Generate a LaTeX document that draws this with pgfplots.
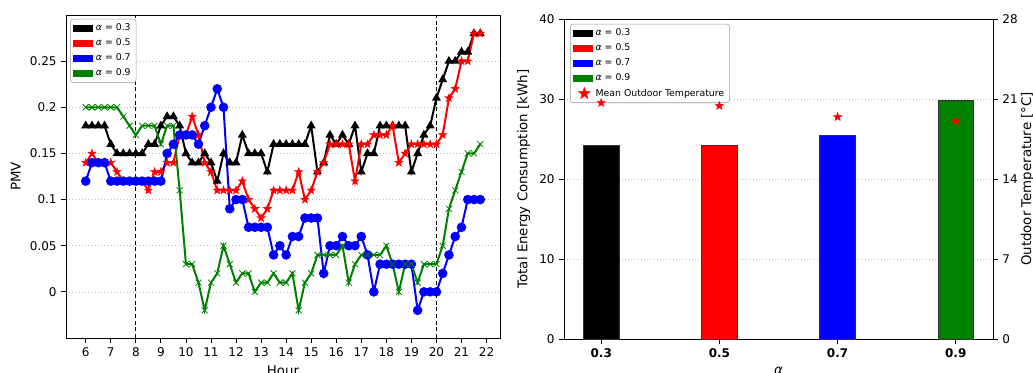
\documentclass[border=0pt]{standalone}
\usepackage{fontspec}
\setmainfont{DejaVu Sans}
\usepackage{pgfplots}
\usepackage{pgfplotstable}
\pgfplotsset{compat=1.18}
\definecolor{mplgreen}{rgb}{0,0.5,0}
\pgfdeclareplotmark{fstar}{%
  \pgfpathmoveto{\pgfqpoint{0pt}{\pgfplotmarksize}}%
  \pgfpathlineto{\pgfqpoint{-.2351\pgfplotmarksize}{.3236\pgfplotmarksize}}%
  \pgfpathlineto{\pgfqpoint{-.9511\pgfplotmarksize}{.3090\pgfplotmarksize}}%
  \pgfpathlineto{\pgfqpoint{-.3804\pgfplotmarksize}{-.1236\pgfplotmarksize}}%
  \pgfpathlineto{\pgfqpoint{-.5878\pgfplotmarksize}{-.8090\pgfplotmarksize}}%
  \pgfpathlineto{\pgfqpoint{0pt}{-.4\pgfplotmarksize}}%
  \pgfpathlineto{\pgfqpoint{.5878\pgfplotmarksize}{-.8090\pgfplotmarksize}}%
  \pgfpathlineto{\pgfqpoint{.3804\pgfplotmarksize}{-.1236\pgfplotmarksize}}%
  \pgfpathlineto{\pgfqpoint{.9511\pgfplotmarksize}{.3090\pgfplotmarksize}}%
  \pgfpathlineto{\pgfqpoint{.2351\pgfplotmarksize}{.3236\pgfplotmarksize}}%
  \pgfpathclose
  \pgfusepathqfillstroke
}
\pgfplotstableread{
t a3 a5 a7 a9
6.00 0.18 0.14 0.12 0.20
6.25 0.18 0.15 0.14 0.20
6.50 0.18 0.14 0.14 0.20
6.75 0.18 0.14 0.14 0.20
7.00 0.16 0.14 0.12 0.20
7.25 0.15 0.13 0.12 0.20
7.50 0.15 0.12 0.12 0.19
7.75 0.15 0.12 0.12 0.18
8.00 0.15 0.12 0.12 0.17
8.25 0.15 0.12 0.12 0.18
8.50 0.16 0.11 0.12 0.18
8.75 0.16 0.13 0.12 0.18
9.00 0.18 0.13 0.12 0.16
9.25 0.19 0.14 0.15 0.18
9.50 0.19 0.14 0.16 0.18
9.75 0.18 0.17 0.17 0.11
10.00 0.15 0.17 0.17 0.03
10.25 0.14 0.19 0.17 0.03
10.50 0.14 0.17 0.16 0.01
10.75 0.15 0.14 0.18 -0.02
11.00 0.14 0.13 0.20 0.01
11.25 0.12 0.11 0.22 0.02
11.50 0.15 0.11 0.20 0.05
11.75 0.14 0.11 0.09 0.03
12.00 0.14 0.11 0.10 0.01
12.25 0.17 0.12 0.10 0.02
12.50 0.15 0.10 0.07 0.02
12.75 0.15 0.09 0.07 0.00
13.00 0.15 0.08 0.07 0.01
13.25 0.13 0.09 0.07 0.01
13.50 0.16 0.11 0.04 0.02
13.75 0.16 0.11 0.05 0.01
14.00 0.16 0.11 0.04 0.01
14.25 0.16 0.11 0.06 0.02
14.50 0.16 0.13 0.06 -0.02
14.75 0.16 0.10 0.08 0.01
15.00 0.18 0.11 0.08 0.02
15.25 0.13 0.13 0.08 0.04
15.50 0.14 0.14 0.02 0.04
15.75 0.17 0.16 0.05 0.04
16.00 0.16 0.16 0.05 0.04
16.25 0.17 0.16 0.06 0.05
16.50 0.16 0.16 0.05 0.01
16.75 0.18 0.12 0.05 0.03
17.00 0.13 0.16 0.06 0.04
17.25 0.15 0.16 0.04 0.04
17.50 0.15 0.17 0.00 0.04
17.75 0.18 0.17 0.03 0.04
18.00 0.18 0.17 0.03 0.05
18.25 0.18 0.18 0.03 0.03
18.50 0.18 0.14 0.03 0.00
18.75 0.18 0.15 0.03 0.03
19.00 0.13 0.16 0.03 0.03
19.25 0.15 0.16 -0.02 0.01
19.50 0.17 0.16 0.00 0.03
19.75 0.18 0.16 0.00 0.03
20.00 0.21 0.16 0.00 0.03
20.25 0.23 0.17 0.02 0.05
20.50 0.25 0.21 0.04 0.09
20.75 0.25 0.22 0.06 0.11
21.00 0.26 0.25 0.07 0.13
21.25 0.26 0.25 0.10 0.15
21.50 0.28 0.28 0.10 0.15
21.75 0.28 0.28 0.10 0.16
}\pmv
\pgfplotsset{
  mystyle/.style={
    scale only axis, anchor=south west,
    /pgf/number format/assume math mode=true,
    tick label style={font=\fontsize{9}{10}\selectfont},
    label style={font=\fontsize{10}{12}\selectfont},
    tick align=outside, major tick length=3.5pt,
    every tick/.style={black, line width=0.6pt},
    axis line style={line width=0.7pt},
    ymajorgrids, grid style={dotted, gray!50, line width=0.5pt},
    legend style={draw=gray!80, rounded corners=2pt, fill=white,
      font=\fontsize{7}{8.5}\selectfont, inner xsep=2pt, inner ysep=1.5pt,
      row sep=0.6pt, legend cell align=left},
  },
  patch/.style={legend image code/.code={\fill[#1, draw=none, sharp corners] (0pt,-2.6pt) rectangle (15pt,2.6pt);}},
}
\begin{document}
\begin{tikzpicture}
\useasboundingbox (0,0) rectangle (774.75pt,279pt);
\begin{axis}[mystyle,
  at={(49.5pt,25.5pt)}, width=325.5pt, height=242.25pt,
  xmin=5.2125, xmax=22.5375, ymin=-0.05, ymax=0.30,
  xtick={6,7,...,22}, ytick={0,0.05,0.1,0.15,0.2,0.25},
  yticklabels={0,0.05,0.1,0.15,0.2,0.25},
  xtick pos=left, ytick pos=left,
  xlabel={Hour}, ylabel={PMV},
  legend style={at={(0.01,0.988)}, anchor=north west},
]
\addlegendimage{patch=black}
\addlegendentry{\textit{α} = 0.3}
\addlegendimage{patch=red}
\addlegendentry{\textit{α} = 0.5}
\addlegendimage{patch=blue}
\addlegendentry{\textit{α} = 0.7}
\addlegendimage{patch=mplgreen}
\addlegendentry{\textit{α} = 0.9}
\addplot[forget plot, black, line width=0.8pt, dash pattern=on 3pt off 2pt] coordinates {(8,-0.05) (8,0.30)};
\addplot[forget plot, black, line width=0.8pt, dash pattern=on 3pt off 2pt] coordinates {(20,-0.05) (20,0.30)};
\addplot[forget plot, black, line width=1.5pt, mark=triangle*, mark size=2.4pt, mark options={solid}] table[x=t, y=a3] {\pmv};
\addplot[forget plot, red, line width=1.5pt, mark=fstar, mark size=3pt, mark options={solid, line width=0.5pt}] table[x=t, y=a5] {\pmv};
\addplot[forget plot, blue, line width=1.5pt, mark=*, mark size=2.8pt, mark options={solid}] table[x=t, y=a7] {\pmv};
\addplot[forget plot, mplgreen, line width=1.5pt, mark=x, mark size=3.2pt, mark options={solid, line width=0.6pt}] table[x=t, y=a9] {\pmv};
\end{axis}

\begin{axis}[mystyle,
  at={(423pt,24.75pt)}, width=321.75pt, height=240pt,
  xmin=0.237, xmax=0.963, ymin=0, ymax=40,
  xtick={0.3,0.5,0.7,0.9},
  xticklabels={\textbf{0.3},\textbf{0.5},\textbf{0.7},\textbf{0.9}},
  ytick={0,10,20,30,40},
  xtick pos=left, ytick pos=left,
  xlabel={\textit{α}}, ylabel={Total Energy Consumption [kWh]},
  legend style={at={(0.014,0.985)}, anchor=north west},
]
\addplot[ybar, bar width=0.06, bar shift=0pt, fill=black, draw=black!80, line width=0.6pt, forget plot] coordinates {(0.3,24.2)};
\addplot[ybar, bar width=0.06, bar shift=0pt, fill=red, draw=black!80, line width=0.6pt, forget plot] coordinates {(0.5,24.25)};
\addplot[ybar, bar width=0.06, bar shift=0pt, fill=blue, draw=black!80, line width=0.6pt, forget plot] coordinates {(0.7,25.5)};
\addplot[ybar, bar width=0.06, bar shift=0pt, fill=mplgreen, draw=black!80, line width=0.6pt, forget plot] coordinates {(0.9,29.8)};
\addlegendimage{patch=black}
\addlegendentry{\textit{α} = 0.3}
\addlegendimage{patch=red}
\addlegendentry{\textit{α} = 0.5}
\addlegendimage{patch=blue}
\addlegendentry{\textit{α} = 0.7}
\addlegendimage{patch=mplgreen}
\addlegendentry{\textit{α} = 0.9}
\addlegendimage{only marks, mark=fstar, red, mark size=4.5pt}
\addlegendentry{Mean Outdoor Temperature}
\end{axis}

\begin{axis}[mystyle,
  at={(423pt,24.75pt)}, width=321.75pt, height=240pt,
  xmin=0.237, xmax=0.963, ymin=0, ymax=28,
  ytick={0,7,14,21,28}, ymajorgrids=false,
  axis x line=none, axis y line*=right,
  ylabel={Outdoor Temperature [°C]},
  ylabel style={at={(axis description cs:1.08,0.5)}, anchor=center},
]
\addplot[only marks, mark=fstar, red, mark size=3.2pt] coordinates {(0.3,20.66) (0.5,20.4) (0.7,19.43) (0.9,19.05)};
\end{axis}
\end{tikzpicture}
\end{document}
